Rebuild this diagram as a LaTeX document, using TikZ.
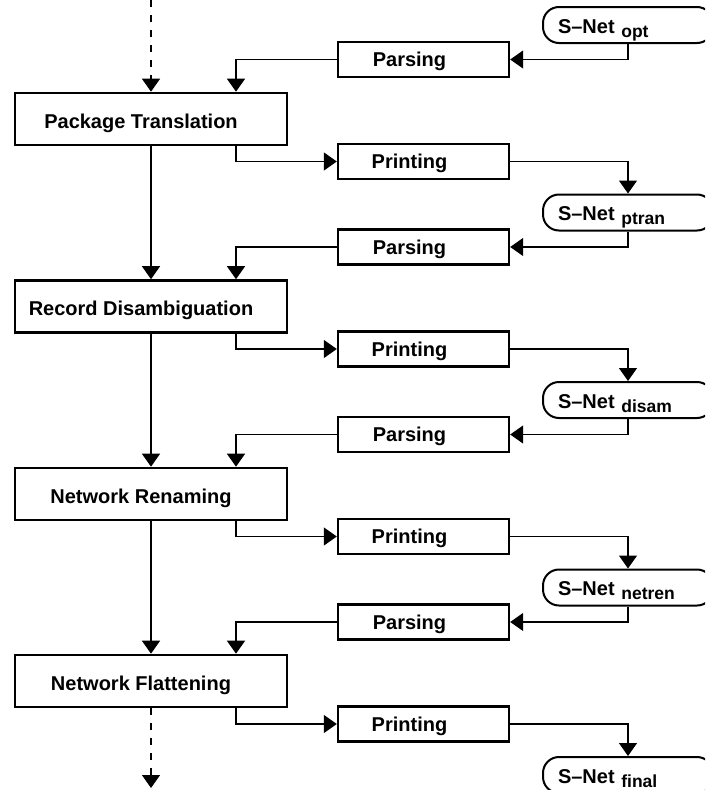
\documentclass[tikz,border=0pt]{standalone}
\usepackage{fontspec}
\setmainfont{Liberation Sans}
\usepackage{tikz}
\usetikzlibrary{arrows.meta}
\usetikzlibrary{positioning}

\newcommand\netsub[1]{\raisebox{-4pt}{\fontsize{17.5}{18}\selectfont #1}}

\tikzset{
    stage/.style={draw, line width=2.6pt, minimum width=272pt, minimum height=52pt,
        inner sep=0pt, text height=22pt, text depth=4pt,
        font=\bfseries\fontsize{20}{24}\selectfont, execute at end node={\hspace{20pt}}},
    tool/.style={draw, line width=2.4pt, minimum width=171pt, minimum height=35pt,
        inner sep=0pt, text height=18pt, text depth=4pt,
        font=\bfseries\fontsize{20}{24}\selectfont, execute at end node={\hspace{28pt}}},
    netfile/.style={draw, line width=2pt, rounded corners=16pt, text width=140pt, align=left,
        inner xsep=15pt, inner ysep=0pt, minimum height=36pt, text height=21pt, text depth=5pt,
        font=\bfseries\fontsize{20}{24}\selectfont},
    flow/.style={line width=1.3pt, -{Triangle[width=18pt,length=13pt]}},
}

\begin{document}
\begin{tikzpicture}[x=1pt,y=-1pt]
    \clip (0,0) rectangle (705,790);

    % stages
    \node[stage] (pt) at (151,119) {Package Translation};
    \node[stage] (rd) at (151,306.5) {Record Disambiguation};
    \node[stage] (nr) at (151,494) {Network Renaming};
    \node[stage] (nf) at (151,681) {Network Flattening};

    % parsing and printing
    \node[tool] (pars1) at (423.5,59.5) {Parsing};
    \node[tool] (prin1) at (423.5,161.5) {Printing};
    \node[tool] (pars2) at (423.5,247) {Parsing};
    \node[tool] (prin2) at (423.5,349) {Printing};
    \node[tool] (pars3) at (423.5,434.5) {Parsing};
    \node[tool] (prin3) at (423.5,536.5) {Printing};
    \node[tool] (pars4) at (423.5,622) {Parsing};
    \node[tool] (prin4) at (423.5,724) {Printing};

    % S-Net files
    \node[netfile] (opt) at (628,25) {S--Net \netsub{opt}};
    \node[netfile] (ptran) at (628,212.5) {S--Net \netsub{ptran}};
    \node[netfile] (disam) at (628,400) {S--Net \netsub{disam}};
    \node[netfile] (netren) at (628,587.5) {S--Net \netsub{netren}};
    \node[netfile] (final) at (628,775) {S--Net \netsub{final}};

    \coordinate (in) at (151,0);
    \coordinate (out) at (151,788);

    % main line
    \draw[flow, dash pattern=on 7pt off 8pt] (in) -- (pt.north);
    \draw[flow] (pt.south) -- (rd.north);
    \draw[flow] (rd.south) -- (nr.north);
    \draw[flow] (nr.south) -- (nf.north);
    \draw[flow, dash pattern=on 7pt off 8pt] (nf.south) -- (out);

    % round trips
    \draw[flow] (opt.south) |- (pars1.east);
    \draw[flow] (pars1.west) -| ([xshift=85pt]pt.north);
    \draw[flow] ([xshift=85pt]pt.south) |- (prin1.west);
    \draw[flow] (prin1.east) -| (ptran.north);

    \draw[flow] (ptran.south) |- (pars2.east);
    \draw[flow] (pars2.west) -| ([xshift=85pt]rd.north);
    \draw[flow] ([xshift=85pt]rd.south) |- (prin2.west);
    \draw[flow] (prin2.east) -| (disam.north);

    \draw[flow] (disam.south) |- (pars3.east);
    \draw[flow] (pars3.west) -| ([xshift=85pt]nr.north);
    \draw[flow] ([xshift=85pt]nr.south) |- (prin3.west);
    \draw[flow] (prin3.east) -| (netren.north);

    \draw[flow] (netren.south) |- (pars4.east);
    \draw[flow] (pars4.west) -| ([xshift=85pt]nf.north);
    \draw[flow] ([xshift=85pt]nf.south) |- (prin4.west);
    \draw[flow] (prin4.east) -| (final.north);
\end{tikzpicture}
\end{document}
